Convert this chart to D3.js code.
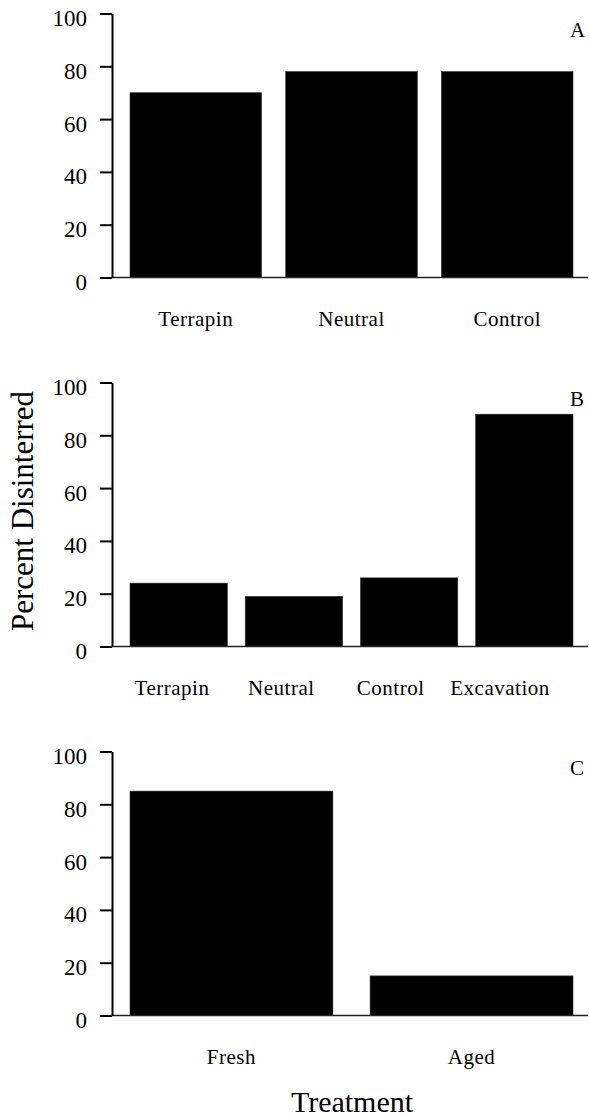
<!DOCTYPE html>
<html>
<head>
<meta charset="utf-8">
<script src="https://cdn.jsdelivr.net/npm/d3@7"></script>
<style>
  body { margin: 0; background: #fff; }
  svg { display: block; }
  text { font-family: "Liberation Serif", "Times New Roman", serif; fill: #000; }
</style>
</head>
<body>
<svg id="chart"></svg>
<script>
const width = 589;
const height = 1118;

// Panel data
const panelLetters = ['A', 'B', 'C'];

const categoriesA = ['Terrapin', 'Neutral', 'Control'];
const valuesA = [70, 78, 78];

const categoriesB = ['Terrapin', 'Neutral', 'Control', 'Excavation'];
const valuesB = [24, 19, 26, 88];

const categoriesC = ['Fresh', 'Aged'];
const valuesC = [85, 15];

const yTicks = [0, 20, 40, 60, 80, 100];

const yTitle = 'Percent Disinterred';
const xTitle = 'Treatment';

const panels = [
  { letter: panelLetters[0], categories: categoriesA, values: valuesA, top: 13.5, labelRange: null },
  { letter: panelLetters[1], categories: categoriesB, values: valuesB, top: 382.5, labelRange: [172, 500] },
  { letter: panelLetters[2], categories: categoriesC, values: valuesC, top: 751.5, labelRange: null },
];

const axisX = 112;
const axisRight = 588;
const plotHeight = 264;
const serif = '"Liberation Serif", "Times New Roman", serif';

const svg = d3.select('#chart')
  .attr('width', width)
  .attr('height', height)
  .attr('viewBox', `0 0 ${width} ${height}`);

panels.forEach(p => {
  const y = d3.scaleLinear()
    .domain([0, 100])
    .range([p.top + plotHeight, p.top]);

  const x = d3.scaleBand()
    .domain(p.categories)
    .range([130, 573])
    .paddingInner(0.155)
    .paddingOuter(0);

  const g = svg.append('g');

  // Bars
  g.selectAll('rect.bar')
    .data(p.values)
    .join('rect')
    .attr('class', 'bar')
    .attr('x', (d, i) => x(p.categories[i]))
    .attr('width', x.bandwidth())
    .attr('y', d => y(d))
    .attr('height', d => y(0) - y(d))
    .attr('fill', '#000')
    .attr('stroke', '#333')
    .attr('stroke-width', 0.6);

  // Baseline
  g.append('line')
    .attr('x1', axisX)
    .attr('x2', axisRight)
    .attr('y1', y(0))
    .attr('y2', y(0))
    .attr('stroke', '#222')
    .attr('stroke-width', 1.3);

  // Y axis
  const yAxis = g.append('g')
    .attr('transform', `translate(${axisX},0)`)
    .call(d3.axisLeft(y).tickValues(yTicks).tickSizeInner(12).tickSizeOuter(0).tickPadding(13));

  yAxis.attr('font-family', serif);
  yAxis.select('.domain').attr('stroke', '#000').attr('stroke-width', 2);
  yAxis.selectAll('.tick line').attr('stroke', '#000').attr('stroke-width', 2);
  yAxis.selectAll('.tick text')
    .attr('dy', 12)
    .style('font-family', serif)
    .style('font-size', '23px')
    .attr('fill', '#000');

  // Category labels
  const labelX = p.labelRange
    ? d3.scalePoint().domain(p.categories).range(p.labelRange)
    : (c => x(c) + x.bandwidth() / 2);

  g.selectAll('text.cat')
    .data(p.categories)
    .join('text')
    .attr('class', 'cat')
    .attr('x', d => labelX(d))
    .attr('y', y(0) + 48)
    .attr('text-anchor', 'middle')
    .style('font-size', '21px')
    .style('letter-spacing', '0.5px')
    .text(d => d);

  // Panel letter
  g.append('text')
    .attr('x', 570)
    .attr('y', y(100) + 23)
    .style('font-size', '21px')
    .text(p.letter);
});

// Axis titles
svg.append('text')
  .attr('transform', 'translate(33,511) rotate(-90)')
  .attr('text-anchor', 'middle')
  .style('font-size', '31px')
  .text(yTitle);

svg.append('text')
  .attr('x', 352)
  .attr('y', 1112)
  .attr('text-anchor', 'middle')
  .style('font-size', '30px')
  .text(xTitle);
</script>
</body>
</html>
